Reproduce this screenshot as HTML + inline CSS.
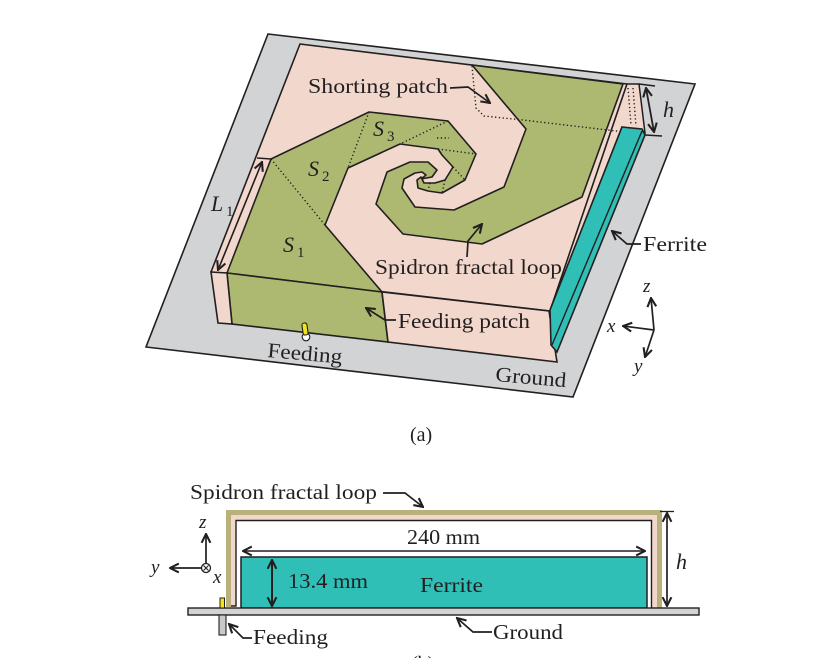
<!DOCTYPE html>
<html><head><meta charset="utf-8">
<style>
html,body{margin:0;padding:0;background:#fff;}
svg{display:block;}
text{font-family:"Liberation Serif",serif;fill:#231f20;}
</style></head>
<body>
<svg width="838" height="658" viewBox="0 0 838 658" xmlns="http://www.w3.org/2000/svg">
<defs>
<marker id="ar" viewBox="0 0 10 10" refX="9" refY="5" markerUnits="userSpaceOnUse" markerWidth="11" markerHeight="11" orient="auto-start-reverse">
<path d="M1,1 L9,5 L1,9" fill="none" stroke="#231f20" stroke-width="1.9"/>
</marker>
</defs>

<!-- ===== (a) ===== -->
<polygon points="268,34 695,84 573,397 146,347" fill="#d1d3d4" stroke="#231f20" stroke-width="1.6"/>
<!-- top face -->
<polygon points="300,44 627,84 550,311 211,272" fill="#f2d8cc" stroke="#231f20" stroke-width="1.6" stroke-linejoin="round"/>
<!-- right end pink sliver -->
<polygon points="627,84 639,84 645,133 622,127 550,311" fill="#f2d8cc" stroke="#231f20" stroke-width="1.5"/>
<!-- green arm 2 -->
<polygon points="472,65 623,84 582,197 482,244 403,234 376,204 387,172 410,162 428,162 437,170 432,177 421,179 426,175 422,172 415,173 404,179 402,188 415,207 454,210 504,187 526,129" fill="#adb970" stroke="#231f20" stroke-width="1.6" stroke-linejoin="round"/>
<!-- green arm 1 -->
<polygon points="227,273 271,159 369,112 448,121 476,154 465,180 442,193 428,191 418,188 417,180 421,177 424,183 435,183 445,180 453,167 442,155 438,149 400,144 348,168 325,225 382,292" fill="#adb970" stroke="#231f20" stroke-width="1.6" stroke-linejoin="round"/>
<line x1="257" y1="158" x2="271" y2="159" stroke="#231f20" stroke-width="1.4"/>
<!-- dotted lines -->
<g stroke="#231f20" stroke-width="1.4" stroke-dasharray="1.3 2.5" fill="none">
<line x1="271" y1="159" x2="325" y2="225"/>
<line x1="369" y1="112" x2="348" y2="168"/>
<line x1="448" y1="121" x2="400" y2="144"/>
<line x1="438" y1="149" x2="476" y2="154"/>
<line x1="453" y1="167" x2="465" y2="180"/>
<line x1="437" y1="138" x2="449" y2="138"/>
<line x1="445" y1="180" x2="442" y2="193"/>
<line x1="430" y1="183" x2="428" y2="191"/>
<polyline points="472,66 476,108 484,116 523,120 633,133"/>
<line x1="628" y1="88" x2="631" y2="125"/>
<line x1="633" y1="88" x2="636" y2="126"/>
</g>
<!-- front face -->
<polygon points="227,273 382,292 388,342 232,324" fill="#adb970" stroke="#231f20" stroke-width="1.6"/>
<polygon points="382,292 549,311 557,362 388,342" fill="#f2d8cc" stroke="#231f20" stroke-width="1.6"/>
<polygon points="211,272 227,273 232,324 218,323" fill="#f2d8cc" stroke="#231f20" stroke-width="1.6"/>
<!-- ferrite -->
<polygon points="622,127 642,129 645,135 557,352 551,345 550,310" fill="#2fbfb7" stroke="#231f20" stroke-width="1.6"/>
<line x1="642" y1="131" x2="552" y2="345" stroke="#231f20" stroke-width="1.4"/>
<!-- h marker -->
<line x1="639" y1="84" x2="655" y2="86" stroke="#231f20" stroke-width="1.4"/>
<line x1="645" y1="135" x2="662" y2="136" stroke="#231f20" stroke-width="1.4"/>
<line x1="646" y1="88" x2="654" y2="132" stroke="#231f20" stroke-width="1.8" marker-start="url(#ar)" marker-end="url(#ar)"/>
<!-- L1 arrow -->
<line x1="262" y1="162" x2="218" y2="270" stroke="#231f20" stroke-width="1.6" marker-start="url(#ar)" marker-end="url(#ar)"/>
<!-- feed pin -->
<circle cx="306" cy="337" r="3.8" fill="#fff" stroke="#231f20" stroke-width="1.1"/>
<rect x="302.5" y="323" width="5" height="12" rx="2" fill="#f3e21c" stroke="#231f20" stroke-width="1.1" transform="rotate(-8 305 329)"/>
<!-- leaders -->
<g fill="none" stroke="#231f20" stroke-width="1.7">
<polyline points="450,88 468,87 490,103" marker-end="url(#ar)"/>
<polyline points="641,244 627,244 612,231" marker-end="url(#ar)"/>
<polyline points="467,257 468,241 482,224" marker-end="url(#ar)"/>
<polyline points="396,320 385,320 366,308" marker-end="url(#ar)"/>
<!-- axes a -->
<line x1="654" y1="330" x2="623" y2="326" marker-end="url(#ar)"/>
<line x1="654" y1="330" x2="651" y2="298" marker-end="url(#ar)"/>
<line x1="654" y1="330" x2="645" y2="357" marker-end="url(#ar)"/>
</g>
<!-- labels a -->
<text x="308" y="93" font-size="21" textLength="140" lengthAdjust="spacingAndGlyphs">Shorting patch</text>
<text x="375" y="274" font-size="21" textLength="187" lengthAdjust="spacingAndGlyphs">Spidron fractal loop</text>
<text x="398" y="328" font-size="21" textLength="132" lengthAdjust="spacingAndGlyphs">Feeding patch</text>
<text x="643" y="251" font-size="21" textLength="64" lengthAdjust="spacingAndGlyphs">Ferrite</text>
<text x="267" y="357" font-size="21" textLength="75" lengthAdjust="spacingAndGlyphs" transform="rotate(5 267 357)">Feeding</text>
<text x="495" y="381" font-size="21" textLength="71" lengthAdjust="spacingAndGlyphs" transform="rotate(5 495 381)">Ground</text>
<text x="410" y="441" font-size="20">(a)</text>
<text x="283" y="252" font-size="22" font-style="italic">S</text><text x="297" y="257" font-size="15">1</text>
<text x="308" y="176" font-size="22" font-style="italic">S</text><text x="322" y="181" font-size="15">2</text>
<text x="373" y="136" font-size="22" font-style="italic">S</text><text x="387" y="141" font-size="15">3</text>
<text x="211" y="211" font-size="22" font-style="italic">L</text><text x="226" y="216" font-size="15">1</text>
<text x="663" y="117" font-size="22" font-style="italic">h</text>
<text x="643" y="292" font-size="19" font-style="italic">z</text>
<text x="607" y="332" font-size="19" font-style="italic">x</text>
<text x="634" y="372" font-size="19" font-style="italic">y</text>

<!-- ===== (b) ===== -->
<path d="M226,607 V510 H662 V608 H657 V515 H231 V607 Z" fill="#b9b17c"/>
<path d="M231,606 V515 H657 V608 H652 V520 H236 V606 Z" fill="#f2d8cc"/>
<path d="M231,606 H236 V520.5 H651.5 V608" fill="none" stroke="#231f20" stroke-width="1.4"/>
<rect x="241" y="557" width="406" height="51" fill="#2fbfb7" stroke="#231f20" stroke-width="1.5"/>
<rect x="188" y="608" width="511" height="7" fill="#d1d3d4" stroke="#231f20" stroke-width="1.4"/>
<rect x="219" y="615" width="7" height="20" fill="#c8c9ca" stroke="#231f20" stroke-width="1.1"/>
<rect x="220" y="598" width="4.5" height="10" fill="#f3e21c" stroke="#231f20" stroke-width="1"/>
<g fill="none" stroke="#231f20" stroke-width="1.7">
<line x1="243" y1="551" x2="645" y2="551" marker-start="url(#ar)" marker-end="url(#ar)" stroke-width="1.5"/>
<line x1="272" y1="560" x2="272" y2="606" marker-start="url(#ar)" marker-end="url(#ar)" stroke-width="2"/>
<line x1="667" y1="513" x2="667" y2="606" marker-start="url(#ar)" marker-end="url(#ar)" stroke-width="1.7"/>
<line x1="660" y1="511.5" x2="674" y2="511.5" stroke-width="1.3"/>
<polyline points="383,493 405,493 423,507" marker-end="url(#ar)"/>
<polyline points="252,638 243,638 229,624" marker-end="url(#ar)"/>
<polyline points="492,632 473,632 457,618" marker-end="url(#ar)"/>
<circle cx="206" cy="568" r="4.5" stroke-width="1.3"/>
<line x1="203.5" y1="565.5" x2="208.5" y2="570.5" stroke-width="1.1"/>
<line x1="208.5" y1="565.5" x2="203.5" y2="570.5" stroke-width="1.1"/>
<line x1="206" y1="563" x2="206" y2="534" marker-end="url(#ar)"/>
<line x1="201" y1="568" x2="170" y2="568" marker-end="url(#ar)"/>
</g>
<text x="190" y="499" font-size="21" textLength="187" lengthAdjust="spacingAndGlyphs">Spidron fractal loop</text>
<text x="407" y="544" font-size="21" textLength="73" lengthAdjust="spacingAndGlyphs">240 mm</text>
<text x="288" y="588" font-size="21" textLength="80" lengthAdjust="spacingAndGlyphs">13.4 mm</text>
<text x="420" y="592" font-size="21" textLength="63" lengthAdjust="spacingAndGlyphs">Ferrite</text>
<text x="253" y="644" font-size="21" textLength="75" lengthAdjust="spacingAndGlyphs">Feeding</text>
<text x="493" y="639" font-size="21" textLength="70" lengthAdjust="spacingAndGlyphs">Ground</text>
<text x="676" y="569" font-size="22" font-style="italic">h</text>
<text x="199" y="528" font-size="19" font-style="italic">z</text>
<text x="151" y="573" font-size="19" font-style="italic">y</text>
<text x="213" y="583" font-size="19" font-style="italic">x</text>
<text x="411" y="670" font-size="20">(b)</text>
</svg>
</body></html>
